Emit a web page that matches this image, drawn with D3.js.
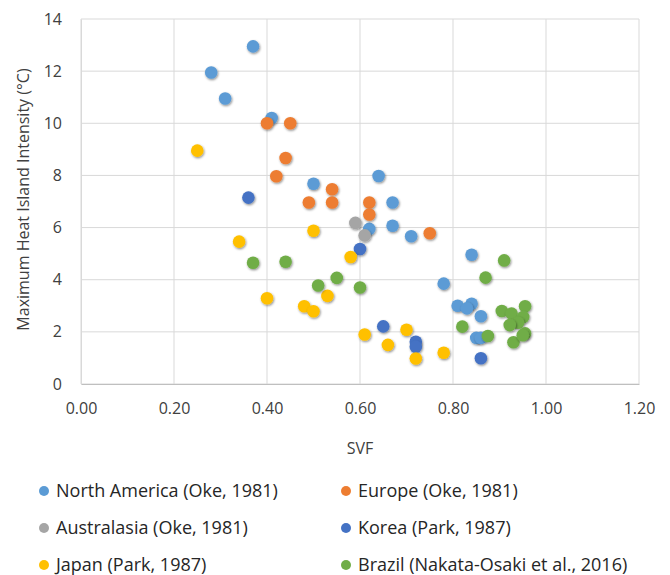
<!DOCTYPE html>
<html><head><meta charset="utf-8">
<script src="https://cdn.jsdelivr.net/npm/d3@7"></script>
<style>body{margin:0;background:#fff}svg{display:block}text{font-family:"Open Sans",sans-serif}</style>
</head><body>
<script>
const xTicks = [0, 0.2, 0.4, 0.6, 0.8, 1.0, 1.2];
const yTicks = [0, 2, 4, 6, 8, 10, 12, 14];
const seriesNames = ["North America (Oke, 1981)", "Europe (Oke, 1981)", "Australasia (Oke, 1981)", "Korea (Park, 1987)", "Japan (Park, 1987)", "Brazil (Nakata-Osaki et al., 2016)"];
const seriesColors = ["#5B9BD5", "#ED7D31", "#A5A5A5", "#4472C4", "#FFC000", "#70AD47"];
const northAmerica = [[0.37,12.95],[0.28,11.95],[0.31,10.95],[0.41,10.2],[0.64,7.98],[0.50,7.68],[0.67,6.96],[0.62,5.95],[0.67,6.07],[0.71,5.67],[0.84,4.96],[0.78,3.85],[0.81,3.0],[0.84,3.08],[0.83,2.90],[0.86,2.60],[0.85,1.77],[0.86,1.77]];
const europe = [[0.40,10.0],[0.45,10.0],[0.44,8.67],[0.42,7.97],[0.54,7.47],[0.49,6.96],[0.54,6.96],[0.62,6.96],[0.62,6.5],[0.75,5.78]];
const australasia = [[0.59,6.18],[0.61,5.70]];
const korea = [[0.36,7.15],[0.60,5.18],[0.65,2.21],[0.72,1.62],[0.72,1.43],[0.86,0.99]];
const japan = [[0.25,8.95],[0.50,5.88],[0.34,5.46],[0.58,4.87],[0.53,3.38],[0.40,3.29],[0.48,2.98],[0.50,2.79],[0.70,2.08],[0.61,1.90],[0.66,1.50],[0.72,0.98],[0.78,1.20]];
const brazil = [[0.37,4.65],[0.44,4.69],[0.55,4.07],[0.51,3.78],[0.60,3.70],[0.91,4.74],[0.87,4.08],[0.82,2.20],[0.875,1.84],[0.905,2.80],[0.926,2.70],[0.955,2.98],[0.951,2.57],[0.94,2.35],[0.922,2.26],[0.955,1.94],[0.93,1.60],[0.95,1.87]];
const seriesData = [northAmerica, europe, australasia, korea, japan, brazil];

const W = 670, H = 575;
const m = {left: 81, right: 31, top: 19, bottom: 191};
const svg = d3.select("body").append("svg").attr("width", W).attr("height", H);
const defs = svg.append("defs");
const f = defs.append("filter").attr("id","sh").attr("x","-50%").attr("y","-50%").attr("width","200%").attr("height","200%");
f.append("feDropShadow").attr("dx",0.8).attr("dy",1.2).attr("stdDeviation",0.9).attr("flood-color","#000").attr("flood-opacity",0.45);

const x = d3.scaleLinear().domain([0, 1.2]).range([m.left, W - m.right]);
const y = d3.scaleLinear().domain([0, 14]).range([H - m.bottom, m.top]);

const g = svg.append("g");
g.selectAll("line.gx").data(xTicks).join("line")
  .attr("x1", d => x(d)).attr("x2", d => x(d)).attr("y1", y(0)).attr("y2", y(14))
  .attr("stroke", "#d9d9d9").attr("stroke-width", 1);
g.selectAll("line.gy").data(yTicks).join("line")
  .attr("x1", x(0)).attr("x2", x(1.2)).attr("y1", d => y(d)).attr("y2", d => y(d))
  .attr("stroke", "#d9d9d9").attr("stroke-width", 1);

const xAxis = d3.axisBottom(x).tickValues(xTicks).tickFormat(d3.format(".2f")).tickSize(0).tickPadding(19);
const xa = svg.append("g").attr("transform", `translate(0,${y(0)})`).call(xAxis);
xa.select(".domain").attr("stroke", "#bfbfbf");
xa.selectAll("text").attr("font-size", 16).attr("fill", "#404040");

const yAxis = d3.axisLeft(y).tickValues(yTicks).tickFormat(d3.format("d")).tickSize(0).tickPadding(19);
const ya = svg.append("g").attr("transform", `translate(${x(0)},0)`).call(yAxis);
ya.select(".domain").attr("stroke", "#d9d9d9");
ya.selectAll("text").attr("font-size", 16).attr("fill", "#404040");

svg.append("text").attr("x", x(0.6)).attr("y", 454).attr("text-anchor", "middle")
  .attr("font-size", 16).attr("fill", "#404040").text("SVF");
svg.append("text").attr("transform", `translate(29,${(y(0)+y(14))/2 - 2}) rotate(-90)`)
  .attr("text-anchor", "middle").attr("font-size", 16).attr("fill", "#404040")
  .text("Maximum Heat Island Intensity (°C)");

seriesData.forEach((data, i) => {
  svg.append("g").selectAll("circle").data(data).join("circle")
    .attr("cx", d => x(d[0])).attr("cy", d => y(d[1])).attr("r", 6.3)
    .attr("fill", seriesColors[i]).attr("filter", "url(#sh)");
});

const lg = svg.append("g");
seriesNames.forEach((name, i) => {
  const col = i % 2, row = Math.floor(i / 2);
  const lx = col === 0 ? 44 : 346;
  const ly = 491 + row * 37;
  lg.append("circle").attr("cx", lx).attr("cy", ly).attr("r", 5).attr("fill", seriesColors[i]);
  lg.append("text").attr("x", lx + 12).attr("y", ly).attr("dy", "0.35em")
    .attr("font-size", 18).attr("fill", "#262626").text(name);
});
</script>
</body></html>
